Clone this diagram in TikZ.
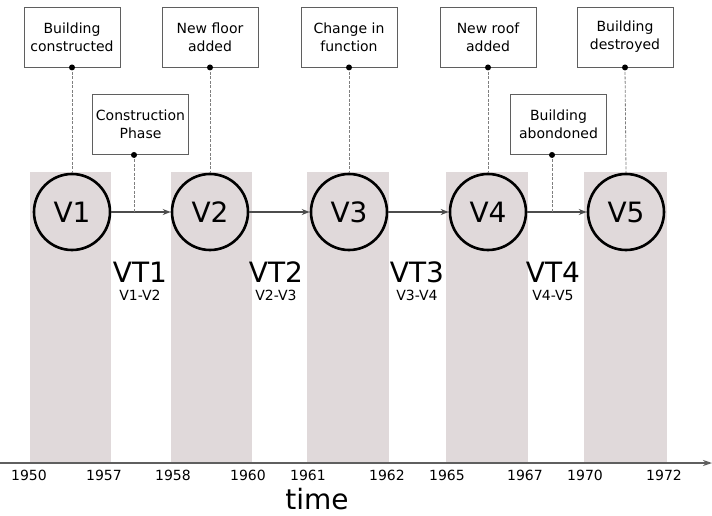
\documentclass[tikz,border=0pt]{standalone}
\usepackage{fontspec}
\setmainfont{DejaVu Sans}
\usetikzlibrary{arrows.meta}
\definecolor{phasefill}{RGB}{224,217,218}
\definecolor{linegray}{RGB}{95,95,95}
\tikzset{
  version/.style={circle,draw=black,line width=2.6pt,minimum size=76pt,inner sep=0pt,font=\fontsize{28}{28}\selectfont},
  event/.style={draw=linegray,line width=0.9pt,fill=white,minimum width=96pt,minimum height=60pt,align=center,inner sep=0pt,font=\fontsize{14}{18}\selectfont},
  pinline/.style={draw=linegray!80,dashed,dash pattern=on 3pt off 1.5pt,line width=0.8pt},
  pindot/.style={circle,fill=black,inner sep=0pt,minimum size=6pt},
  trans/.style={font=\fontsize{28}{28}\selectfont},
  transsub/.style={font=\fontsize{14}{14}\selectfont},
  year/.style={font=\fontsize{14}{14}\selectfont},
}
\begin{document}
\begin{tikzpicture}[x=1pt,y=-1pt]
      \useasboundingbox (0,0) rectangle (712,516);
      \fill[phasefill] (30,172) rectangle (111,463);
      \fill[phasefill] (171,172) rectangle (252,463);
      \fill[phasefill] (307,172) rectangle (389,463);
      \fill[phasefill] (446,172) rectangle (528,463);
      \fill[phasefill] (584,172) rectangle (667,463);
      \draw
        (72,212) node[version] (v1){V1}
        (210,212) node[version] (v2){V2}
        (349,212) node[version] (v3){V3}
        (488,212) node[version] (v4){V4}
        (626,212) node[version] (v5){V5};
      \draw
        (72,37) node[event] (e1){Building\\constructed}
        (210,37) node[event] (e2){New floor\\added}
        (349,37) node[event] (e3){Change in\\function}
        (488,37) node[event] (e4){New roof\\added}
        (625,37) node[event] (e5){Building\\destroyed}
        (140.5,124.5) node[event] (c1){Construction\\Phase}
        (558.5,124.5) node[event] (c2){Building\\abondoned};
      \coordinate (j1) at (134,212);
      \coordinate (j2) at (552,212);
      \begin{scope}[draw=linegray!80!black,line width=1.1pt,-{Stealth[length=8pt,width=6pt]}]
        \draw (v1) to (v2);
        \draw (v2) to (v3);
        \draw (v3) to (v4);
        \draw (v4) to (v5);
      \end{scope}
      \begin{scope}[pinline]
        \draw (e1.south) to (v1.north);
        \draw (e2.south) to (v2.north);
        \draw (e3.south) to (v3.north);
        \draw (e4.south) to (v4.north);
        \draw (e5.south) to (v5.north);
        \draw (c1.south -| j1) to (j1);
        \draw (c2.south -| j2) to (j2);
      \end{scope}
      \node[pindot] at (e1.south) {};
      \node[pindot] at (e2.south) {};
      \node[pindot] at (e3.south) {};
      \node[pindot] at (e4.south) {};
      \node[pindot] at (e5.south) {};
      \node[pindot] at (c1.south -| j1) {};
      \node[pindot] at (c2.south -| j2) {};
      \draw
        (140,272) node[trans] (t1){VT1}
        (276,272) node[trans] (t2){VT2}
        (417,272) node[trans] (t3){VT3}
        (553,272) node[trans] (t4){VT4};
      \draw
        (140,295) node[transsub] (s1){V1-V2}
        (276,295) node[transsub] (s2){V2-V3}
        (417,295) node[transsub] (s3){V3-V4}
        (553,295) node[transsub] (s4){V4-V5};
      \coordinate (axisstart) at (0,463);
      \coordinate (axisend) at (712,463);
      \draw[linegray,line width=1.2pt,-{Stealth[length=9pt,width=6pt]}] (axisstart) -- (axisend);
      \draw
        (29,475) node[year] (y1){1950}
        (104,475) node[year] (y2){1957}
        (173,475) node[year] (y3){1958}
        (248,475) node[year] (y4){1960}
        (308,475) node[year] (y5){1961}
        (387,475) node[year] (y6){1962}
        (447,475) node[year] (y7){1965}
        (525,475) node[year] (y8){1967}
        (585,475) node[year] (y9){1970}
        (664,475) node[year] (y10){1972};
      \node[font=\fontsize{28}{28}\selectfont,anchor=base,inner sep=0pt] (time) at (317,509) {time};
    \end{tikzpicture}
\end{document}
